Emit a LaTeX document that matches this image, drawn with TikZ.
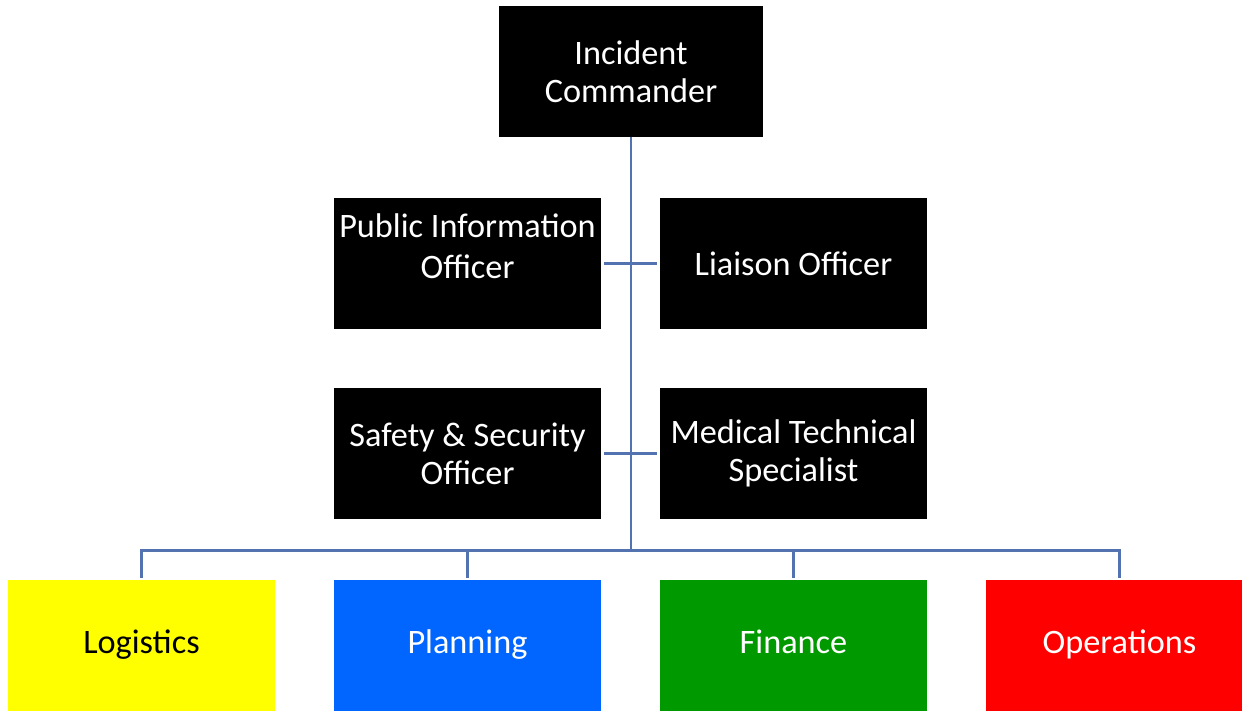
\documentclass[tikz,border=0pt]{standalone}
\usepackage{fontspec}
\setmainfont{Carlito}
\usepackage{tikz}
\usetikzlibrary{positioning}
\definecolor{linkblue}{RGB}{82,114,176}
\definecolor{logyellow}{RGB}{255,255,0}
\definecolor{planblue}{RGB}{0,102,255}
\definecolor{financegreen}{RGB}{0,153,0}
\definecolor{opsred}{RGB}{255,0,0}

\begin{document}
\begin{tikzpicture}[
    x=0.02cm, y=-0.02cm,
    % Boxes of the command staff
    staff_node/.style={rectangle, fill=black, text=white, minimum width=5.34cm, minimum height=2.62cm,
        inner sep=0pt, align=center, font=\fontsize{19.5}{21.5}\selectfont},
    % Boxes of the four sections
    section_node/.style={staff_node, text=white, execute at begin node=\strut},
    link/.style={draw=linkblue, line width=1.7pt}
]
    \useasboundingbox (0,0) rectangle (1242,711);
    \clip (0,0) rectangle (1242,711);

    % --- command ---
    \node[staff_node, minimum width=5.3cm] (commander) at (631, 71.5) {Incident\\Commander};

    % --- command staff ---
    \node[staff_node] (pio)     at (467.5, 263.5) {};
    \node[staff_node, fill=none, minimum height=0pt] (pio_text) at (467.5, 246) {Public Information\\[2pt]Officer};
    \node[staff_node] (liaison) at (793.5, 263.5) {Liaison Officer};
    \node[staff_node] (safety)  at (467.5, 453.5) {Safety \& Security\\Officer};
    \node[staff_node] (medical) at (793.5, 453.5) {Medical Technical\\Specialist};

    % --- sections ---
    \node[section_node, fill=logyellow, text=black] (logistics)  at (141.5, 645.5)  {Logistics};
    \node[section_node, fill=planblue]              (planning)   at (467.5, 645.5)  {Planning};
    \node[section_node, fill=financegreen]          (finance)    at (793.5, 645.5)  {Finance};
    \node[section_node, fill=opsred]                (operations) at (1119.5, 645.5) {Operations};

    % --- links ---
    \coordinate (bus) at (631, 550);
    \draw[link] (commander.south) -- (bus);
    \draw[link, shorten <=1.7pt, shorten >=1.7pt] (pio) -- (liaison);
    \draw[link, shorten <=1.7pt, shorten >=1.7pt] (safety) -- (medical);
    \foreach \s in {logistics, planning, finance, operations} {
        \draw[link, shorten >=1.2pt] (bus) -| (\s.north);
    }

\end{tikzpicture}
\end{document}
